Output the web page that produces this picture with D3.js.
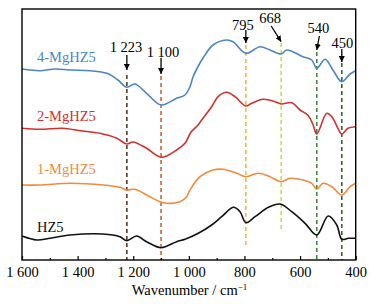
<!DOCTYPE html>
<html>
<head>
<meta charset="utf-8">
<script src="https://cdn.jsdelivr.net/npm/d3@7/dist/d3.min.js"></script>
<style>
  html, body { margin: 0; padding: 0; background: #fff; }
  svg { display: block; }
</style>
</head>
<body>
<svg id="chart" width="375" height="304"></svg>
<script>
// ---------- data (wavenumber in cm-1, intensity in arbitrary units, offset stacked) ----------
const seriesNames = ["4-MgHZ5", "2-MgHZ5", "1-MgHZ5", "HZ5"];

const wn4 = [1600,1535,1481,1427,1355,1295,1255,1223,1194,1152,1100,1044,1014,996,985,960,949,913,864,841,795,744,708,668,648,590,558,540,510,482,450,420,400];
const val4 = [191,189.3,191,190,189.3,186.7,180,172.7,176,166.7,155,161.7,165,173.3,183,197,202,215,220,218.3,206.7,213.3,210,206,210,203.3,200,191.7,200.7,190,178.3,186,189.3];

const wn2 = [1600,1535,1453,1391,1320,1259,1223,1201,1152,1100,1044,1014,992,967,954,918,895,864,834,795,774,733,690,668,630,600,571,553,540,504,486,464,450,428,400];
const val2 = [131.7,130.7,131.7,129.3,126.7,121.7,116,118,111.7,102.7,110,116.7,128,135,140,153.3,163.3,167.7,163.3,154,156.7,160.7,158.3,156,157.3,150,144.5,135,126,146.7,143.3,131.7,126,131.7,133.3];

const wn1 = [1600,1535,1427,1309,1248,1223,1194,1140,1092,1032,1008,996,960,913,877,828,795,751,708,668,636,590,558,540,518,486,450,420,400];
const val1 = [75,75,76.7,75,72.7,70,70.7,63.3,57.3,58.3,63.3,70,83.3,90,90.7,86.7,83.3,86.7,83.3,78.3,81.7,80,76.7,70.7,76.7,73.3,65,73.3,76.7];

const wn0 = [1600,1547,1499,1427,1309,1248,1223,1188,1152,1100,1044,1014,966,918,882,840,816,795,762,714,672,630,582,540,499,468,450,426,400];
const val0 = [24,20,21.7,25,26,23.3,19.3,24,18.3,12.3,18.3,20.7,26.7,35,43.3,52.7,48.3,37.3,43.3,52.7,56,48.3,36.7,25,44,35,20.7,21.7,21.7];

const peakLabels = ["1 223", "1 100", "795", "668", "540", "450"];
const peakWn = [1223, 1100, 795, 668, 540, 450];

const xTickValues = [1600, 1400, 1200, 1000, 800, 600, 400];
const xTickLabels = ["1 600", "1 400", "1 200", "1 000", "800", "600", "400"];
const xMinorTicks = [1500, 1300, 1100, 900, 700, 500];

// ---------- layout / style (not data) ----------
const W = 375, H = 304;
const FONT = "Liberation Serif";
const margin = {left: 22, right: 19.3, top: 9, bottom: 44};
const seriesColors = ["#4a86c6", "#d2302e", "#f28a3c", "#111111"];
const peakColors = ["#5b3a1e", "#c9652e", "#f5b744", "#c5dd5c", "#3f8a3a", "#2b6a2f"];
const dashTop = [185, 184, 215, 217, 208, 197];
const dashBottom = [0, 0, 13.3, 30, 0, 0];
const arrowFrom = [[0,-15],[0,-16],[0,-13],[-10,-15.7],[2.6,-14],[0,-13]];
const arrowTipY = [70, 74, 43, 41.7, 50, 62];
const labelPos = [[-0.8, 52], [2, 57], [-3, 30], [-11, 23], [1.5, 33], [0.5, 47.5]];
const seriesLabelPos = [[37, 61.7], [37, 120.7], [37, 174.3], [37, 231.7]];

const svg = d3.select("#chart");

const x = d3.scaleLinear().domain([1600, 400]).range([margin.left, W - margin.right]);
const y = d3.scaleLinear().domain([0, 251]).range([H - margin.bottom, margin.top]);

const line = d3.line()
  .x(d => x(d[0]))
  .y(d => y(d[1]))
  .curve(d3.curveCatmullRom.alpha(0.5));

const allWn = [wn4, wn2, wn1, wn0];
const allVal = [val4, val2, val1, val0];

peakWn.forEach((w, i) => {
  svg.append("line")
    .attr("x1", x(w)).attr("x2", x(w))
    .attr("y1", y(dashTop[i])).attr("y2", y(dashBottom[i]))
    .attr("stroke", peakColors[i])
    .attr("stroke-width", 1.6)
    .attr("stroke-dasharray", "4,3");
});

allWn.forEach((wns, i) => {
  const pts = wns.map((w, j) => [w, allVal[i][j]]);
  svg.append("path")
    .datum(pts)
    .attr("d", line)
    .attr("fill", "none")
    .attr("stroke", seriesColors[i])
    .attr("stroke-width", 1.6)
    .attr("stroke-linejoin", "round");
  svg.append("text")
    .attr("x", seriesLabelPos[i][0]).attr("y", seriesLabelPos[i][1])
    .attr("fill", seriesColors[i])
    .attr("font-family", FONT)
    .attr("font-size", 14.5)
    .text(seriesNames[i]);
});

const defs = svg.append("defs");
defs.append("marker")
  .attr("id", "arrow")
  .attr("viewBox", "0 0 10 10")
  .attr("refX", 10).attr("refY", 5)
  .attr("markerWidth", 6).attr("markerHeight", 6)
  .attr("markerUnits", "userSpaceOnUse")
  .attr("orient", "auto")
  .append("path").attr("d", "M0,0 L10,5 L0,10 Z").attr("fill", "#000");

peakWn.forEach((w, i) => {
  const tx = x(w), ty = arrowTipY[i];
  svg.append("line")
    .attr("x1", tx + arrowFrom[i][0]).attr("y1", ty + arrowFrom[i][1])
    .attr("x2", tx).attr("y2", ty)
    .attr("stroke", "#000").attr("stroke-width", 1.3)
    .attr("marker-end", "url(#arrow)");
  svg.append("text")
    .attr("x", tx + labelPos[i][0]).attr("y", labelPos[i][1])
    .attr("text-anchor", "middle")
    .attr("font-family", FONT)
    .attr("font-size", 14.5)
    .attr("fill", "#000")
    .text(peakLabels[i]);
});

svg.append("rect")
  .attr("x", margin.left).attr("y", margin.top)
  .attr("width", W - margin.left - margin.right)
  .attr("height", H - margin.top - margin.bottom)
  .attr("fill", "none").attr("stroke", "#000").attr("stroke-width", 1.4);

const xAxis = d3.axisBottom(x)
  .tickValues(xTickValues)
  .tickSizeInner(-4).tickSizeOuter(0)
  .tickFormat((d, i) => xTickLabels[i]);
const gx = svg.append("g").attr("transform", `translate(0,${H - margin.bottom})`).call(xAxis);
gx.attr("font-family", FONT);
gx.select(".domain").remove();
gx.selectAll(".tick line").attr("stroke", "#000").attr("stroke-width", 1.2);
gx.selectAll(".tick text")
  .attr("y", 17).attr("dy", 0)
  .attr("font-family", FONT)
  .attr("font-size", 14.5).attr("fill", "#000");

const xMinor = d3.axisBottom(x).tickValues(xMinorTicks).tickSizeInner(-2).tickSizeOuter(0).tickFormat("");
const gm = svg.append("g").attr("transform", `translate(0,${H - margin.bottom})`).call(xMinor);
gm.select(".domain").remove();
gm.selectAll(".tick line").attr("stroke", "#000").attr("stroke-width", 1.2);

const title = svg.append("text")
  .attr("x", 189.5).attr("y", 295)
  .attr("text-anchor", "middle")
  .attr("font-family", FONT)
  .attr("font-size", 14.5).attr("fill", "#000");
title.append("tspan").text("Wavenumber / cm");
title.append("tspan").attr("font-size", 9).attr("dy", -5).text("−1");
</script>
</body>
</html>
